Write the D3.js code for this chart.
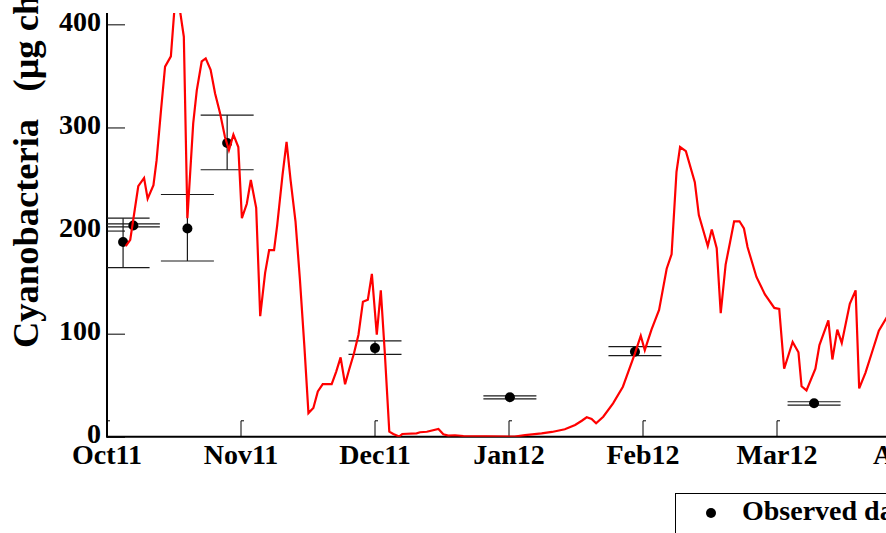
<!DOCTYPE html>
<html>
<head>
<meta charset="utf-8">
<script src="https://cdn.jsdelivr.net/npm/d3@7"></script>
<style>
  html, body { margin: 0; padding: 0; background: #fff; }
  svg { display: block; }
  text { font-family: "Liberation Serif", "Times New Roman", serif; font-weight: bold; fill: #000; }
</style>
</head>
<body>
<svg id="chart" width="886" height="533"></svg>
<script>
// ---- data (days since 1 Oct 2011, 30-day months on the axis) ----
const monthTicks = [0, 30, 60, 90, 120, 150, 180];
const monthLabels = ["Oct11", "Nov11", "Dec11", "Jan12", "Feb12", "Mar12", "Apr12"];
const yTicks = [0, 100, 200, 300, 400];

const modelDay = [4.2, 5.2, 7.0, 8.3, 9.1, 10.4, 11.1, 12.1, 13.0, 14.3, 15.5, 17.2, 18.0, 19.3, 20.1, 21.2, 22.1, 23.2, 24.2, 25.3, 26.4, 27.3, 28.3, 29.4, 30.2, 31.3, 32.2, 33.4, 34.3, 35.4, 36.3, 37.4, 38.1, 39.3, 40.2, 41.1, 42.2, 43.2, 44.2, 45.1, 46.2, 47.2, 48.3, 50.3, 51.3, 52.3, 53.3, 54.2, 55.3, 56.3, 57.3, 58.4, 59.3, 60.4, 61.3, 62.2, 63.2, 64.1, 65.4, 66.1, 69.3, 70.1, 71.6, 74.2, 75.3, 76.4, 77.9, 79.8, 91.3, 93.6, 97.3, 99.6, 102.5, 104.8, 106.3, 107.4, 108.5, 109.5, 111.1, 113.3, 115.5, 116.7, 118.2, 119.5, 120.4, 121.9, 123.6, 125.3, 126.4, 127.5, 128.3, 129.6, 131.6, 132.5, 134.5, 135.4, 136.5, 137.4, 138.5, 139.5, 140.4, 141.6, 142.6, 143.4, 145.4, 147.3, 149.4, 150.5, 151.6, 153.5, 154.8, 155.5, 156.6, 158.6, 159.5, 161.5, 162.4, 163.5, 164.5, 166.3, 167.6, 168.4, 169.8, 171.2, 172.8, 175.3];
const modelValue = [185, 191, 243, 251, 231, 244, 268, 317, 359, 369, 438, 388, 212, 304, 336, 364, 367, 356, 333, 314, 291, 278, 293, 281, 212, 226, 249, 222, 117, 159, 181, 181, 205, 254, 286, 249, 209, 152, 87, 23, 28, 44, 51, 51, 63, 77, 51, 65, 81, 99, 131, 133, 158, 99, 142, 81, 5, 2.7, 0.3, 2.7, 3.4, 4.4, 4.9, 7.6, 2.4, 1.1, 1.5, 0.8, 0.2, 1.7, 3.4, 4.7, 7.3, 11.4, 15.6, 18.9, 17.3, 13.1, 19.5, 32.5, 48.6, 63, 81, 98, 84, 104, 123, 163, 177, 257, 281, 277, 247, 215, 185, 201, 183, 120, 167, 189, 209, 209, 202, 184, 155, 138, 125, 124, 66, 92, 82, 49, 45, 66, 89, 113, 75, 104, 91, 129, 142, 47, 62, 81, 103, 121];

const obsDay = [3.6, 5.9, 18.0, 26.9, 60.0, 90.2, 118.2, 158.3];
const obsValue = [189, 205, 202, 285, 86, 38.3, 82.5, 32.5];
const obsHigh = [212, 206.5, 235, 312, 93, 39.6, 87.4, 34.0];
const obsLow = [164, 203.5, 170.5, 259, 80, 36.7, 78.7, 30.8];

const legendLabels = ["Observed data"];

// ---- layout ----
const svg = d3.select("#chart");
const plotLeft = 107, plotTop = 13, plotBottom = 436.8, plotRight = 886;

const x = d3.scaleLinear().domain([0, 180]).range([107, 911]);
const y = d3.scaleLinear().domain([0, 411]).range([plotBottom, plotTop]);

svg.append("defs").append("clipPath").attr("id", "plotclip")
  .append("rect").attr("x", plotLeft).attr("y", plotTop)
  .attr("width", plotRight - plotLeft).attr("height", plotBottom - plotTop);

// y axis title
svg.append("text")
  .attr("transform", "translate(38,348) rotate(-90)")
  .attr("text-anchor", "start")
  .style("font-size", "36.5px")
  .style("white-space", "pre")
  .text("Cyanobacteria\u00a0\u00a0 (\u03bcg chl-a L\u207b\u00b9)");

// y ticks (inward)
const yAxis = d3.axisRight(y).tickValues(yTicks).tickSize(18).tickFormat("");
const gy = svg.append("g").attr("transform", `translate(${plotLeft},0)`).call(yAxis);
gy.select(".domain").remove();
gy.selectAll(".tick line").attr("stroke", "#000").attr("stroke-width", 1);

svg.append("g").selectAll("text").data(yTicks).join("text")
  .attr("x", 101).attr("y", d => y(d) + 6.5)
  .attr("text-anchor", "end")
  .style("font-size", "28px")
  .text(d => d);

// x ticks: inward with a small hook
svg.append("g").selectAll("path").data(monthTicks).join("path")
  .attr("d", d => `M${x(d)},${plotBottom} V${plotBottom - 16} h3`)
  .attr("fill", "none").attr("stroke", "#000").attr("stroke-width", 1);

svg.append("g").selectAll("text").data(monthTicks).join("text")
  .attr("x", d => x(d)).attr("y", 464)
  .attr("text-anchor", "middle")
  .style("font-size", "28px")
  .text((d, i) => monthLabels[i]);

// axis lines
svg.append("line").attr("x1", plotLeft).attr("x2", plotLeft).attr("y1", plotTop).attr("y2", plotBottom + 1)
  .attr("stroke", "#000").attr("stroke-width", 2);
svg.append("line").attr("x1", plotLeft).attr("x2", plotRight).attr("y1", plotBottom).attr("y2", plotBottom)
  .attr("stroke", "#000").attr("stroke-width", 2);

// observed data with error bars
const capHalf = 26.5;
const obs = obsDay.map((d, i) => ({ d, v: obsValue[i], lo: obsLow[i], hi: obsHigh[i] }));
const gObs = svg.append("g").attr("clip-path", "url(#plotclip)");
const eb = gObs.selectAll("g.eb").data(obs).join("g").attr("class", "eb")
  .attr("stroke", "#1a1a1a").attr("stroke-width", 1.2).attr("fill", "none");
eb.append("line").attr("x1", o => x(o.d)).attr("x2", o => x(o.d)).attr("y1", o => y(o.hi)).attr("y2", o => y(o.lo));
eb.append("line").attr("x1", o => x(o.d) - capHalf).attr("x2", o => x(o.d) + capHalf).attr("y1", o => y(o.hi)).attr("y2", o => y(o.hi));
eb.append("line").attr("x1", o => x(o.d) - capHalf).attr("x2", o => x(o.d) + capHalf).attr("y1", o => y(o.lo)).attr("y2", o => y(o.lo));
gObs.selectAll("circle").data(obs).join("circle")
  .attr("cx", o => x(o.d)).attr("cy", o => y(o.v)).attr("r", 5).attr("fill", "#000");

// model line
const line = d3.line().x(d => x(d[0])).y(d => y(d[1]));
svg.append("path")
  .datum(modelDay.map((d, i) => [d, modelValue[i]]))
  .attr("clip-path", "url(#plotclip)")
  .attr("d", line)
  .attr("fill", "none").attr("stroke", "#ff0000").attr("stroke-width", 2.2)
  .attr("stroke-linejoin", "miter");

// legend (partially outside the frame)
const lg = svg.append("g");
lg.append("rect").attr("x", 675.5).attr("y", 493.5).attr("width", 300).attr("height", 120)
  .attr("fill", "#fff").attr("stroke", "#000").attr("stroke-width", 1);
lg.append("circle").attr("cx", 711).attr("cy", 513).attr("r", 5).attr("fill", "#000");
lg.append("text").attr("x", 742).attr("y", 520).style("font-size", "28px").text(legendLabels[0]);
</script>
</body>
</html>
